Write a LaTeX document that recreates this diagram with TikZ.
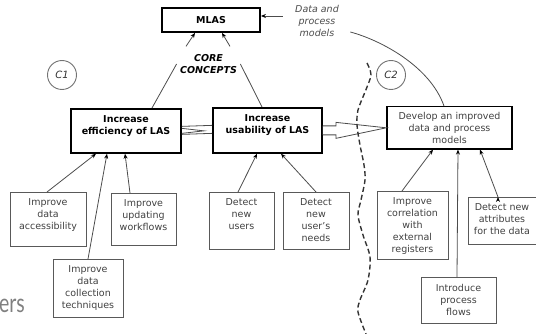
\documentclass[tikz,border=0pt]{standalone}
\usepackage{fontspec}
\setmainfont{DejaVu Sans}
\newfontfamily\slidefont[FakeStretch=0.75]{Lato}
\usetikzlibrary{arrows.meta,positioning}

\begin{document}
\begin{tikzpicture}[x=1pt,y=-1pt,>={Stealth[length=5pt,width=4pt,color=black]},
   every node/.style={font=\fontsize{9.5}{12}\selectfont},
   goal/.style={draw,line width=1.8pt,align=center,anchor=north,inner ysep=6.5pt,
      text depth=#1pt,font=\fontsize{9.5}{12}\selectfont\bfseries},
   task/.style={draw=black!65,line width=1pt,align=center,anchor=north,inner xsep=1pt,
      inner ysep=6.5pt,text depth=#1pt,text=black!75},
   tag/.style={circle,draw=black!55,line width=0.9pt,minimum size=29pt,inner sep=0pt,
      text=black!80,font=\fontsize{10}{12}\selectfont\itshape},
   note/.style={align=center,text=black!70,font=\fontsize{9.5}{12}\selectfont\itshape},
   link/.style={draw=black!70,line width=0.8pt}]
   \useasboundingbox (0,0) rectangle (536,334);

   \node[draw,line width=1.8pt,minimum width=98pt,minimum height=24pt,
      font=\fontsize{9.5}{12}\selectfont\bfseries] (mlas) at (211,20) {MLAS};
   \node[note] (dpm) at (317,21) {Data and\\process\\models};
   \node[note,text=black,font=\fontsize{9.5}{12}\selectfont\bfseries\itshape] (cc) at (208.5,64) {CORE\\CONCEPTS};
   \node[tag] (c1) at (62,75) {C1};
   \node[tag] (c2) at (391,75) {C2};

   \node[goal=12,minimum width=110pt] (eff) at (126,108) {Increase\\efficiency of LAS};
   \node[goal=13,minimum width=109pt] (use) at (267.5,107) {Increase\\usability of LAS};
   \node[task=0,draw=black,line width=1.4pt,inner ysep=5.5pt,minimum width=125pt] (dev) at (449.5,106)
      {Develop an improved\\data and process\\models};

   \node[task=10,minimum width=76pt] (acc) at (48,192) {Improve\\data\\accessibility};
   \node[task=8,minimum width=65pt] (wkf) at (143.5,193) {Improve\\updating\\workflows};
   \node[task=2,minimum width=70pt] (col) at (88,259) {Improve\\data\\collection\\techniques};
   \node[task=13,minimum width=65pt] (dnu) at (241.5,192) {Detect\\new\\users};
   \node[task=1,minimum width=66pt] (dnn) at (316,192) {Detect\\new\\user's\\needs};
   \node[task=0,minimum width=71pt] (cor) at (412.5,191) {Improve\\correlation\\with\\external\\registers};
   \node[task=3,minimum width=68pt] (att) at (502,197) {Detect new\\attributes\\for the data};
   \node[task=2,minimum width=75pt] (ipf) at (458.5,277) {Introduce\\process\\flows};

   \node[anchor=base east,inner sep=0pt,text=black!50,font=\slidefont\fontsize{26}{30}\selectfont] (ers) at (25,312) {ers};

   \path[->,link]
   ([xshift=-9,yshift=5]dpm.west) edge ([yshift=4]mlas.east)
   ([xshift=-22.5,yshift=4.5]cc.north) edge ([xshift=-16]mlas.south)
   ([xshift=21.5,yshift=4.5]cc.north) edge ([xshift=11]mlas.south)
   ([xshift=-1]acc.north) edge ([xshift=-30]eff.south)
   (col.north) edge ([xshift=-19]eff.south)
   ([xshift=-13.5]wkf.north) edge ([xshift=-1]eff.south)
   ([xshift=-3.5]dnu.north) edge ([xshift=-10.5]use.south)
   (dnn.north) edge ([xshift=13.5]use.south)
   ([xshift=-10.5]cor.north) edge ([xshift=-16.5]dev.south)
   ([xshift=-1.5]ipf.north) edge ([xshift=8.5]dev.south)
   ([xshift=-4]att.north) edge ([xshift=30.5]dev.south);

   \draw[link] (cc.west) -- ([xshift=26]eff.north);
   \draw[link] (cc.east) -- ([xshift=-5.5]use.north);
   \draw[link] ([xshift=8,yshift=-11]dpm.east) .. controls +(30,8) and +(-14,-40) .. ([xshift=-5.5]dev.north);

   \draw[link] ([yshift=4.5]eff.east) -- ([yshift=5]use.west);
   \draw[link] ([yshift=-3.5]eff.east) -- ([yshift=-3]use.west);
   \draw[link] ([yshift=2.5]eff.east) -- ([xshift=22]eff.east) -- ([yshift=-2.5]eff.east);

   \draw[link,fill=white] ([yshift=4.5]use.east) -- ++(13,0) -- ++(0,-3.5) -- (dev.west)
      -- ([xshift=13,yshift=-8]use.east) -- ++(0,-3.5) -- ([yshift=-4.5]use.east);

   \draw[black!80,line width=1.4pt,dash pattern=on 5pt off 3pt] plot[smooth] coordinates
      {(367,63) (371,75) (365,92) (358,110) (357,125) (360,145) (364,165) (365,180)
       (361,200) (358,215) (363,235) (370,257) (368,280) (360,300) (358,312) (366,334)};
\end{tikzpicture}
\end{document}
